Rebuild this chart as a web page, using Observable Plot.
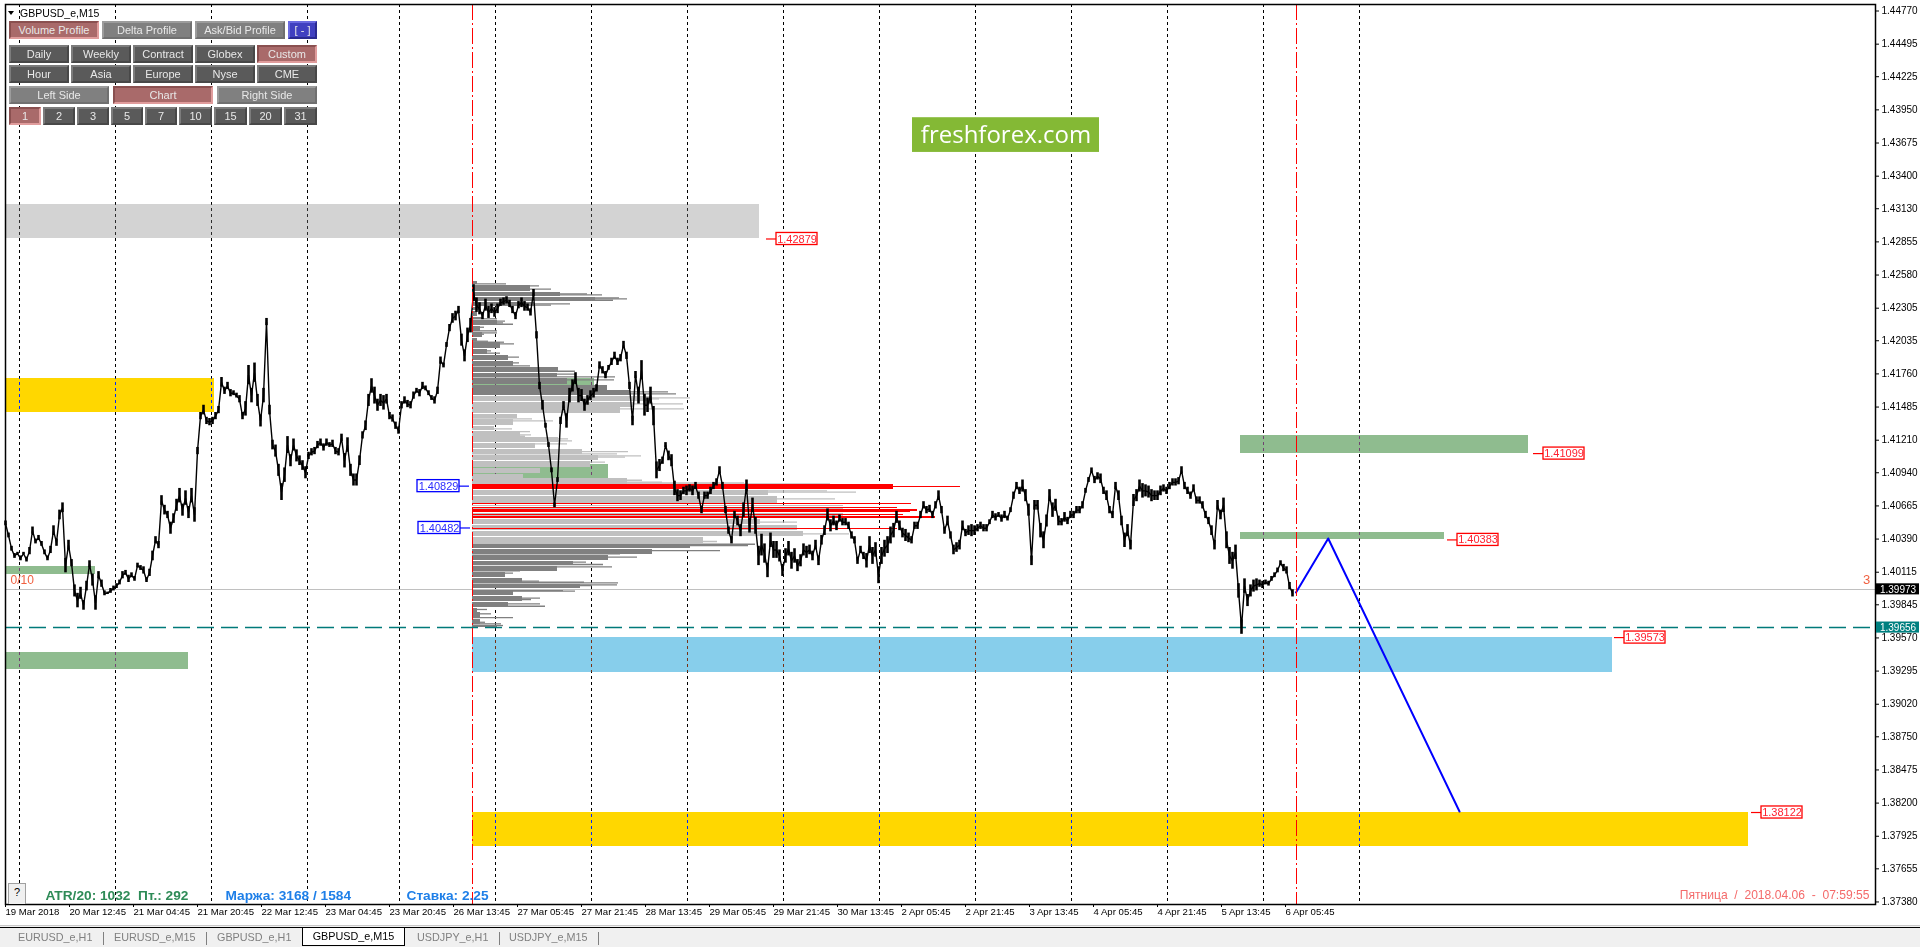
<!DOCTYPE html>
<html><head><meta charset="utf-8">
<script src="https://cdn.jsdelivr.net/npm/d3@7"></script>
<script src="https://cdn.jsdelivr.net/npm/@observablehq/plot@0.6"></script>
<style>
html,body{margin:0;padding:0;background:#fff;width:1920px;height:949px;overflow:hidden}
#wrap{position:relative;width:1920px;height:949px;font-family:"Liberation Sans",Arial,sans-serif}
#chart svg{display:block}
.btn{position:absolute;box-sizing:border-box;text-align:center;font-size:11px;color:#e8e8e8;border-style:solid;border-width:2px 2px 2px 2px}
.g{background:#808080;border-color:#9c9c9c #707070 #707070 #9c9c9c}
.d{background:#5a5a5a;border-color:#7c7c7c #484848 #484848 #7c7c7c}
.r{background:#a96a6a;border-color:#8a5050 #e09c9c #e09c9c #8a5050}
.b{background:#4040c0;border-color:#6a6ae0 #2a2a90 #2a2a90 #6a6ae0}
#tabs{position:absolute;left:0;top:925px;width:1920px;height:22px;background:#f0f0f0;border-top:1px solid #c8c8c8;box-sizing:border-box}
#tabs:before{content:"";position:absolute;left:0;right:0;top:1px;height:1px;background:#000}
.tab{position:absolute;top:5px;font-size:10.8px;color:#808080;white-space:nowrap}
.sep{position:absolute;top:6px;width:1px;height:13px;background:#808080}
#active{position:absolute;left:302px;top:1px;width:103px;height:19px;background:#fff;border:1px solid #000;box-sizing:border-box;font-size:10.8px;color:#000;text-align:center;line-height:17px}
#help{position:absolute;left:8px;top:883px;width:18px;height:21px;box-sizing:border-box;background:#f0f0f0;border:1px solid #a0a0a0;border-bottom:0;font-size:11px;text-align:center;line-height:17px}
#title{position:absolute;left:20px;top:7px;font-size:10.5px;color:#000}
#tri{position:absolute;left:8px;top:11px;width:0;height:0;border-left:3.5px solid transparent;border-right:3.5px solid transparent;border-top:4px solid #000}
</style></head><body>
<div id="wrap"><div id="chart"></div></div>
<script>
// Close of each 3rd M15 bar, 4-digit price x 10000 (bar = index * 3)
const closes = [
14052,14042,14031,14025,14027,14023,14027,14022,14029,14046,14037,14040,14035,14028,14023,14030,14046,14036,14059,14065,
14017,14034,14019,13996,13988,13994,13984,14000,14018,14005,13986,14009,14002,13994,13994,13996,13998,14000,14003,14009,
14011,14006,14009,14006,14017,14015,14013,14005,14011,14025,14038,14034,14071,14063,14059,14048,14056,14067,14075,14063,
14073,14061,14075,14059,14112,14141,14146,14137,14136,14137,14141,14146,14169,14162,14166,14160,14160,14158,14155,14141,
14147,14175,14158,14177,14154,14137,14158,14219,14146,14117,14112,14096,14078,14092,14117,14104,14117,14108,14104,14100,
14094,14108,14111,14112,14117,14119,14115,14119,14117,14118,14112,14111,14123,14104,14117,14096,14088,14088,14104,14125,
14133,14154,14166,14158,14150,14154,14152,14155,14141,14139,14133,14129,14150,14154,14151,14150,14158,14162,14160,14166,
14164,14160,14156,14154,14162,14187,14183,14200,14214,14222,14224,14229,14204,14191,14208,14216,14243,
14233,14230,14224,14233,14227,14230,14227,14230,14235,14236,14237,14234,14229,14224,14233,14235,14232,14231,14227,14243,
14208,14166,14150,14133,14117,14096,14067,14088,14137,14150,14137,14158,14166,14172,14158,14158,14150,14154,14158,14160,
14164,14183,14179,14175,14181,14186,14191,14186,14189,14200,14191,14166,14137,14175,14158,14179,14150,14150,14158,14141,
14096,14100,14104,14117,14108,14104,14081,14075,14075,14079,14079,14081,14079,14083,14075,14063,14075,14075,14079,14083,
14086,14096,14083,14063,14046,14038,14059,14054,14046,14063,14083,14050,14067,14050,14025,14034,14027,14013,14038,14030,
14030,14025,14013,14025,14031,14021,14025,14017,14021,14030,14028,14030,14025,14034,14021,14038,14046,14059,14050,14054,
14050,14056,14053,14053,14050,14042,14038,14021,14030,14025,14021,14034,14025,14030,14009,14025,14031,14034,14042,14046,
14057,14050,14044,14042,14040,14038,14050,14050,14059,14067,14063,14064,14059,14067,14075,14063,14046,14054,14042,14030,
14032,14034,14050,14044,14046,14046,14046,14048,14050,14048,14048,14053,14059,14057,14059,14056,14059,14056,14063,14075,
14083,14079,14083,14075,14063,14021,14067,14067,14046,14038,14054,14075,14063,14067,14054,14053,14057,14054,14059,14059,
14063,14063,14067,14079,14088,14096,14088,14091,14089,14079,14075,14063,14059,14083,14075,14054,14038,14046,14034,14071,
14075,14083,14079,14079,14078,14075,14075,14075,14079,14081,14079,14083,14086,14086,14087,14096,14083,14079,14075,14081,
14071,14071,14067,14059,14054,14046,14034,14067,14059,14067,14038,14025,14021,14028,13996,13966,14000,13988,13996,14000,
14001,14002,14001,14003,14002,14006,14009,14013,14019,14015,14013,14000,13994];

// Half-range of the bars around each close, in pips
const spread = [
2,2,2,2,1,2,1,2,3,3,2,2,2,2,2,3,4,3,4,4,
6,4,3,5,6,5,4,4,3,5,6,3,3,2,1,2,2,2,2,3,
2,3,2,2,2,2,3,2,3,4,3,3,4,4,3,5,4,5,6,5,
6,5,6,6,3,3,4,3,3,3,3,3,4,3,3,3,2,2,3,3,
6,8,6,8,5,5,6,3,4,4,5,5,7,6,7,5,5,5,4,4,
5,3,3,3,3,3,3,3,2,3,3,3,3,6,6,5,5,5,4,3,
4,5,6,7,5,5,6,4,3,3,3,3,3,3,3,3,3,2,3,3,
2,2,2,3,3,3,2,2,3,4,4,3,5,5,6,6,7,6,5,3,
5,5,4,4,4,3,3,3,3,3,3,3,4,4,3,3,3,3,3,4,
2,2,2,2,2,3,3,6,6,5,5,6,5,5,4,4,4,3,3,3,
3,2,3,3,3,3,3,3,3,4,3,7,8,9,6,7,8,7,5,3,
2,4,5,6,5,4,3,4,3,4,3,3,3,3,3,3,3,3,3,3,
3,3,3,3,4,5,6,5,6,6,7,8,9,8,6,6,7,7,5,5,
6,6,7,6,5,5,5,5,4,4,4,4,4,4,5,5,4,4,3,3,
3,3,3,3,3,3,3,6,7,7,6,7,7,7,7,7,6,5,4,4,
5,4,3,3,3,3,3,3,3,3,3,4,3,3,4,3,4,4,4,4,
3,4,5,4,3,3,3,3,2,3,3,2,3,3,2,2,3,3,3,5,
5,5,4,4,4,6,7,5,5,6,5,4,3,4,3,3,3,3,3,3,
2,2,2,3,3,4,3,4,3,3,3,4,4,6,5,4,5,5,5,6,
5,5,5,4,4,4,3,3,3,3,3,3,3,3,3,3,3,3,3,3,
3,3,4,4,4,4,6,7,7,7,6,6,6,6,5,5,5,5,3,3,
2,2,2,2,2,2,3,3,3,3,3,3,3];

// Volume profile bins: price top, price bottom (x 10000), volume in bars
const binHigh = [14252.6,14249.3,14243.8,14239.6,14235,14231,14227.7,14223,14220.3,14215.6,14210,14205,14202.3,14196.2,14191.2,14186.3,14181,14176.6,14172,14166.4,14161.9,
14157.5,14152.5,14147.8,14142.3,14137.9,14132.3,14128.2,14123,14118.5,14113.3,14108.3,14103.3,14097.2,14092.3,14088.9,14079.3,14074.3,14066.9,14064.8,14062.5,14060.6,14054.9,14050.2,14045.3,14040.6,
14034.7,14030.3,14025.3,14020.4,14016.2,14011.5,14006,14001,13997.1,13991.6,13986.6,13981.7,13977.8,13972.3,13967.3];
const binLow = [14250.1,14245.2,14240.5,14236,14232.7,14228.3,14223.9,14221,14217,14212,14206.4,14203.7,14197.6,14192.6,14187.4,14183,14177.4,14172.7,14167.7,14162.2,14158,
14153,14148.4,14143.4,14138.7,14134,14129,14124.3,14119.4,14114.4,14109.1,14104.1,14099.2,14093.1,14089.5,14085.6,14075.1,14070.1,14065.8,14063.4,14061.1,14059.3,14050.8,14048.3,14041.4,14036.4,
14030.9,14025.9,14021.5,14017,14012.6,14007.4,14001.8,13997.7,13992.7,13987.5,13983.3,13978.3,13973.6,13968.1,13965.3];
const binVol = [5,58,88,123,62,8,5,10,25,8,10,5,28,15,36,41,86,85,95,135,158,
180,161,148,45,41,22,48,86,63,110,126,118,68,51,155,296,305,371,371,371,371,288,325,331,231,
218,180,136,101,85,33,50,108,41,50,36,5,8,8,25];

// Single-tick spikes of the profile that reach past their bin
const spikePrice = [14250.7,14249,14246.3,14242.4,14241.6,14239,14238.2,14237.1,14234.1,14233,14221.7,14219.7,14218.3,14217.2,14214.7,14211.7,14210,14208.9,14203.1,14202.3,14200.9,14195.1,14193.2,14189.9,14185.2,14182.7,14178.2,14175.8,14173.5,14171,14161.1,14159.4,
14156.1,14155.3,14151.1,14147,14145.6,14138.7,14137,14130.4,14128.2,14125.4,14124.3,14122.1,14120.5,14118,14111.6,14109.7,14108,14106.9,14102.8,14087.8,14086.2,14085.6,14084.8,14079,14077.9,14072.4,14053,14043.3,14037,
14034.7,14033.6,14029.5,14026.7,14024,14019.8,14017.9,14015.9,14012.6,14010.7,14004.1,14003.2,14002.7,14001,14000.5,13996.3,13995.8,13990,13988.9,13985.3,13983.3,13980.6,13977,13973.9,13970,13968.7,13967.3];
const spikeVol = [34,67,79,115,130,147,155,141,98,79,25,33,31,41,12,25,25,12,16,32,42,19,28,47,47,58,103,103,143,142,196,204,
218,187,211,212,103,60,81,40,58,59,53,96,100,95,156,145,169,153,133,170,190,272,358,355,384,363,325,377,245,
283,276,248,148,165,114,131,140,48,41,67,112,146,145,120,91,103,68,59,68,73,15,19,41,13,29,31];

// High-volume nodes drawn in red
const pocHigh = [14084,14083,14082.9,14068.8,14065.6,14063.5,14061.7,14059.7,14057.6,14047.7];
const pocLow  = [14080.1,14082,14082.1,14067.6,14064.6,14062,14061,14058.9,14056,14047.2];
const pocVol  = [421,470,488,439,425,445,438,431,463,425];

const zoneKind = ["grey","gold","green","green","blue","gold","green","green","green","green"];
const zoneStart= [0,0,0,0,467,467,1235,1235,467,467];
const zoneEnd  = [754,209,90,183,1607,1743,1523,1439,589,603];
const zoneHigh = [14316.5,14172,14016.2,13945,13957.3,13812.2,14124.9,14044.5,14172,14100.9];
const zoneLow  = [14287.9,14144,14009.6,13931,13928,13784,14109.9,14038.3,14162,14089.3];
const zoneFill = {grey:"#d3d3d3",gold:"#ffd700",green:"#8fbc8f",blue:"#87ceeb"};

const separators = [13.5,109.5,205.5,301.5,393.5,489.5,585.5,681.5,777.5,873.5,969.5,1065.5,1161.5,1257.5,1353.5];
const sessionLines = [467,1290.5];

const forecastBar = [1290.5,1322.7,1454];
const forecastPrice = [13994.7,14039.5,13813];

const priceTicks = [1.44770,1.44495,1.44225,1.43950,1.43675,1.43400,1.43130,1.42855,1.42580,1.42305,1.42035,1.41760,1.41485,1.41210,1.40940,1.40665,1.40390,1.40115,1.39845,1.39570,1.39295,1.39020,1.38750,1.38475,1.38200,1.37925,1.37655,1.37380];
const timeTicks = ["19 Mar 2018","20 Mar 12:45","21 Mar 04:45","21 Mar 20:45","22 Mar 12:45","23 Mar 04:45","23 Mar 20:45","26 Mar 13:45","27 Mar 05:45","27 Mar 21:45","28 Mar 13:45","29 Mar 05:45","29 Mar 21:45","30 Mar 13:45","2 Apr 05:45","2 Apr 21:45","3 Apr 13:45","4 Apr 05:45","4 Apr 21:45","5 Apr 13:45","6 Apr 05:45"];

const redLabelPrice = [1.42879,1.41099,1.40383,1.39573,1.38122];
const redLabelBar = [771,1538,1452,1619,1756];
const blueLabelPrice = [1.40829,1.40482];
const blueLabelBar = [412,413];
const lastPrice = 1.39973, levelPrice = 1.39656;

// Chart furniture
const tabNames = ["EURUSD_e,H1","EURUSD_e,M15","GBPUSD_e,H1","USDJPY_e,H1","USDJPY_e,M15"];
const tabLeft = [18,114,217,417,509];
const tabSep = [103,206,499,598];
const rows = [
 {top:21,h:18,items:[["Volume Profile",9,99,"r"],["Delta Profile",102,192,"g"],["Ask/Bid Profile",195,285,"g"],["[ - ]",288,317,"b"]]},
 {top:45,h:18,items:[["Daily",9,69,"d"],["Weekly",71,131,"d"],["Contract",133,193,"d"],["Globex",195,255,"d"],["Custom",257,317,"r"]]},
 {top:65,h:18,items:[["Hour",9,69,"d"],["Asia",71,131,"d"],["Europe",133,193,"d"],["Nyse",195,255,"d"],["CME",257,317,"d"]]},
 {top:86,h:18,items:[["Left Side",9,109,"g"],["Chart",113,213,"r"],["Right Side",217,317,"g"]]},
 {top:107,h:18,items:[["1",9,41,"r"],["2",43,75,"d"],["3",77,109,"d"],["5",111,143,"d"],["7",145,177,"d"],["10",179,212,"d"],["15",214,247,"d"],["20",249,282,"d"],["31",284,317,"d"]]}
];

const P = v => v/1e4;
const barStep = 3, profileStart = 467, lightTop = 14158, lightBottom = 14036, binGap = 0.9;
const grey = p => (p>=lightTop || p<lightBottom) ? "#808080" : "#c0c0c0";
const closeRows = closes.map((c,i)=>({bar:i*barStep,price:P(c),hi:P(c+spread[i]),lo:P(c-spread[i])}));
const binRows = binHigh.map((h,i)=>{
  const next = binHigh[i+1];
  const lo = next!==undefined ? Math.min(binLow[i],next+binGap) : binLow[i];
  return {hi:P(h),lo:P(lo),end:profileStart+binVol[i],fill:grey(h)};
});
const spikeRows = spikePrice.map((p,i)=>({p:P(p),end:profileStart+spikeVol[i],stroke:grey(p)}));
const pocRows = pocHigh.map((h,i)=>({hi:P(h),lo:P(pocLow[i]),end:profileStart+pocVol[i]}));
const zoneRows = zoneKind.map((k,i)=>({x1:zoneStart[i],x2:zoneEnd[i],hi:P(zoneHigh[i]),lo:P(zoneLow[i]),fill:zoneFill[k]}));
const timeBars = timeTicks.map((_,i)=>i*64);
const boxH = 0.0005, tagH = 0.00046;
const redRows = redLabelPrice.map((p,i)=>({p,bar:redLabelBar[i]}));
const blueRows = blueLabelPrice.map((p,i)=>({p,bar:blueLabelBar[i]}));
const fmt = d3.format(".5f");

const plot = Plot.plot({
  width:1920,height:920,marginLeft:5,marginRight:45,marginTop:4,marginBottom:16,
  style:{fontFamily:"'Liberation Sans',Arial,sans-serif",fontSize:"10px",color:"#000",background:"#fff",overflow:"visible"},
  x:{domain:[0,1870],range:[5,1875]},
  y:{domain:[1.37359,1.44824]},
  marks:[
    Plot.frame({fill:"#fff",stroke:"none"}),
    Plot.rect(zoneRows,{x1:"x1",x2:"x2",y1:"hi",y2:"lo",fill:"fill",shapeRendering:"crispEdges"}),
    Plot.ruleX(separators,{stroke:"#fff",strokeDasharray:"3,3",strokeWidth:1,mixBlendMode:"difference",shapeRendering:"crispEdges"}),
    Plot.rect(binRows,{x1:profileStart,x2:"end",y1:"hi",y2:"lo",fill:"fill",shapeRendering:"crispEdges"}),
    Plot.ruleY(spikeRows,{y:"p",x1:profileStart,x2:"end",stroke:"stroke",strokeWidth:1.3}),
    Plot.rect(pocRows,{x1:profileStart,x2:"end",y1:"hi",y2:"lo",fill:"#ff0000",shapeRendering:"crispEdges"}),
    Plot.ruleY([lastPrice],{stroke:"#c0c0c0",strokeWidth:1,shapeRendering:"crispEdges"}),
    Plot.ruleY([levelPrice],{stroke:"#007a7a",strokeWidth:1.4,strokeDasharray:"17,7"}),
    Plot.ruleX(closeRows,{x:"bar",y1:"lo",y2:"hi",stroke:"#000",strokeWidth:2.6}),
    Plot.line(closeRows,{x:"bar",y:"price",stroke:"#000",strokeWidth:1.4,strokeLinejoin:"miter"}),
    Plot.line(forecastBar.map((b,i)=>({b,p:P(forecastPrice[i])})),{x:"b",y:"p",stroke:"#0000ff",strokeWidth:2}),
    Plot.ruleX(sessionLines,{stroke:"#ff0000",strokeWidth:1,strokeDasharray:"16,3,2,3",shapeRendering:"crispEdges"}),

    Plot.ruleY(redRows,{y:"p",x1:d=>d.bar-10,x2:"bar",stroke:"#ff0000",strokeWidth:1.2}),
    Plot.rect(redRows,{x1:"bar",x2:d=>d.bar+41,y1:d=>d.p-boxH,y2:d=>d.p+boxH,fill:"#fff",stroke:"#ff0000",strokeWidth:1.3}),
    Plot.text(redRows,{x:d=>d.bar+20.5,y:"p",text:d=>fmt(d.p),fill:"#ff2030",fontSize:11}),
    Plot.ruleY(blueRows,{y:"p",x1:d=>d.bar+42,x2:d=>d.bar+52,stroke:"#0000ff",strokeWidth:1.2}),
    Plot.rect(blueRows,{x1:"bar",x2:d=>d.bar+42,y1:d=>d.p-boxH,y2:d=>d.p+boxH,fill:"#fff",stroke:"#0000ff",strokeWidth:1.3}),
    Plot.text(blueRows,{x:d=>d.bar+21,y:"p",text:d=>fmt(d.p),fill:"#2a2aff",fontSize:11}),

    Plot.rect([{}],{x1:907,x2:1094,y1:1.43885,y2:1.43597,fill:"#84b935"}),
    Plot.text([{}],{x:1000.5,y:1.43741,text:()=>"freshforex.com",fill:"#fff",fontFamily:"'Open Sans',sans-serif",fontSize:24}),

    Plot.text([{}],{x:5,y:1.40049,text:()=>"0/10",textAnchor:"start",fill:"#f06040",fontSize:12}),
    Plot.text([{}],{x:1861,y:1.40049,text:()=>"3",textAnchor:"middle",fill:"#f06040",fontSize:13}),
    Plot.text([{}],{x:40,y:1.37434,text:()=>"ATR/20: 1032  Пт.: 292",textAnchor:"start",fill:"#2e8b57",fontWeight:"bold",fontSize:13.7}),
    Plot.text([{}],{x:220,y:1.37434,text:()=>"Маржа: 3168 / 1584",textAnchor:"start",fill:"#1e7fe8",fontWeight:"bold",fontSize:13.7}),
    Plot.text([{}],{x:401,y:1.37434,text:()=>"Ставка: 2.25",textAnchor:"start",fill:"#1e7fe8",fontWeight:"bold",fontSize:13.7}),
    Plot.text([{}],{x:1864,y:1.37434,text:()=>"Пятница  /  2018.04.06  -  07:59:55",textAnchor:"end",fill:"#f46a6a",fontSize:12.1}),

    Plot.frame({stroke:"#000",strokeWidth:1.5}),
    Plot.axisY({anchor:"right",ticks:priceTicks,tickFormat:".5f",tickSize:3,tickPadding:3,label:null,fontSize:10}),
    Plot.axisX({anchor:"bottom",ticks:timeBars,tickFormat:b=>timeTicks[b/64],tickSize:3,tickPadding:1,label:null,textAnchor:"start",fontSize:9.6}),

    Plot.rect([{}],{x1:1871,x2:1914,y1:lastPrice-tagH,y2:lastPrice+tagH,fill:"#000"}),
    Plot.text([{}],{x:1892.5,y:lastPrice,text:()=>fmt(lastPrice),fill:"#fff",fontSize:10}),
    Plot.rect([{}],{x1:1871,x2:1914,y1:levelPrice-tagH,y2:levelPrice+tagH,fill:"#008080"}),
    Plot.text([{}],{x:1892.5,y:levelPrice,text:()=>fmt(levelPrice),fill:"#fff",fontSize:10})
  ]
});
const wrap = document.getElementById("wrap");
document.getElementById("chart").appendChild(plot);

const add = (html)=>{wrap.insertAdjacentHTML("beforeend",html)};
add('<div id="tri"></div><div id="title">GBPUSD_e,M15</div><div id="help">?</div>');
rows.forEach(r=>r.items.forEach(([t,a,b,c])=>add(`<div class="btn ${c}" style="left:${a}px;top:${r.top}px;width:${b-a}px;height:${r.h}px;line-height:${r.h-4}px">${t}</div>`)));
let tabs = '<div id="tabs">';
tabNames.forEach((t,i)=>tabs+=`<div class="tab" style="left:${tabLeft[i]}px">${t}</div>`);
tabSep.forEach(x=>tabs+=`<div class="sep" style="left:${x}px"></div>`);
tabs += '<div id="active">GBPUSD_e,M15</div></div>';
add(tabs);
</script></body></html>
